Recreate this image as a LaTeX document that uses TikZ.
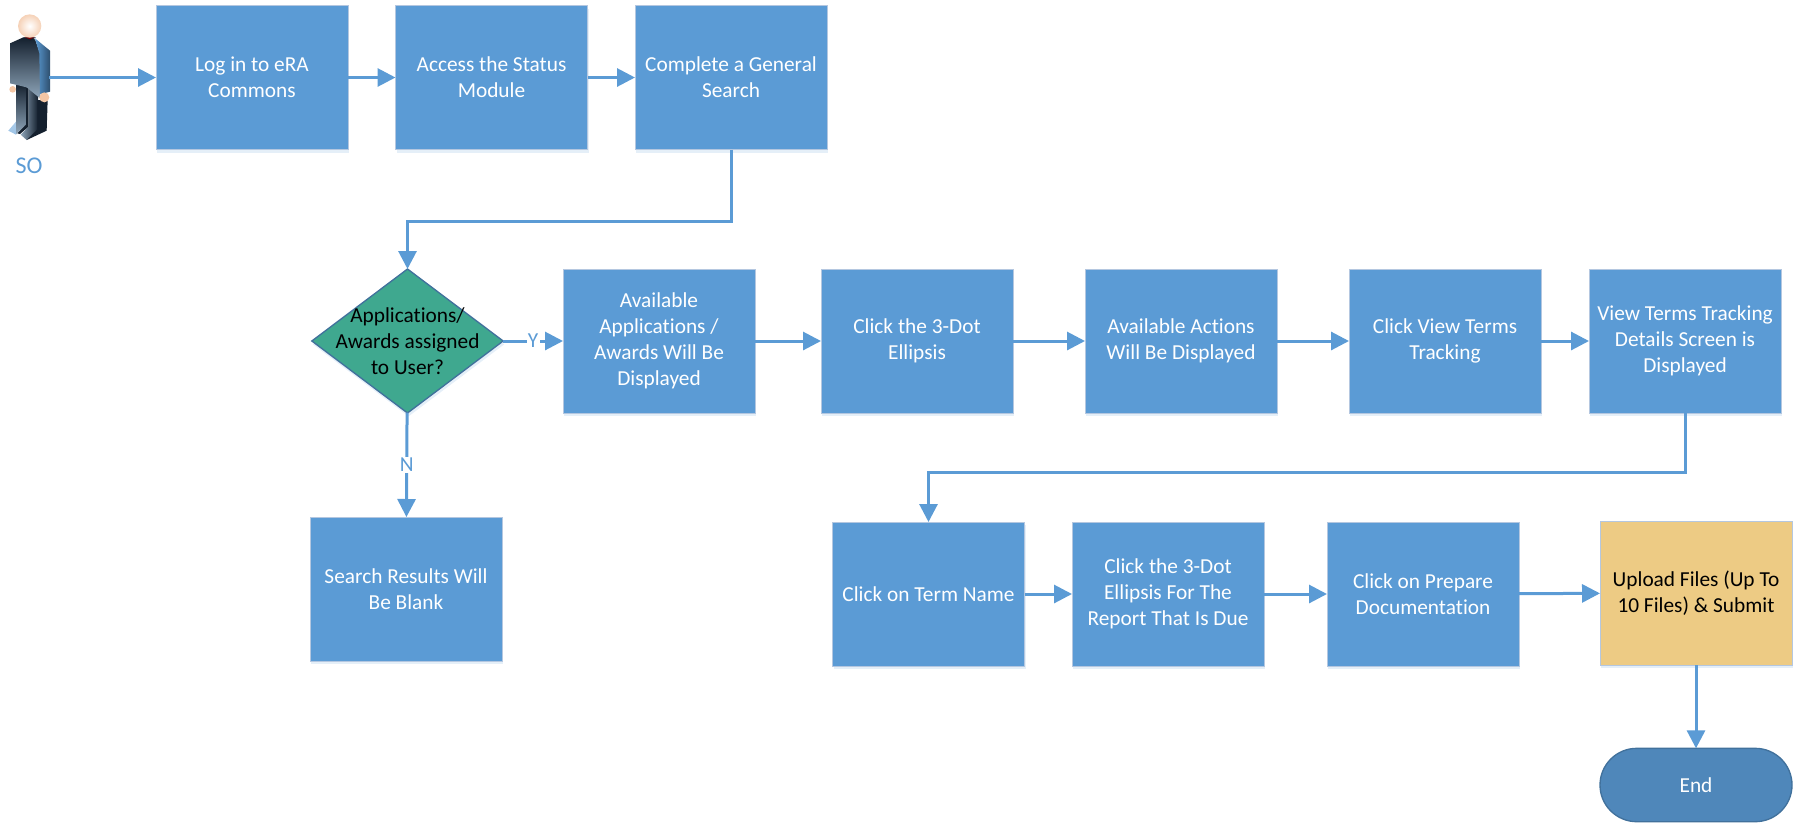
\documentclass[tikz,border=0pt]{standalone}
\usepackage{fontspec}
\setmainfont[Ligatures=NoCommon]{Carlito}
\usetikzlibrary{arrows.meta, shadows, shapes.geometric, shapes.misc}
\definecolor{boxblue}{HTML}{5B9BD5}
\definecolor{boxline}{HTML}{B4C7E0}
\definecolor{darkline}{HTML}{41719C}
\definecolor{decgreen}{HTML}{3FA88F}
\definecolor{upyellow}{HTML}{EDCB84}
\definecolor{endblue}{HTML}{4F87BA}
\definecolor{skin}{HTML}{F3C6A5}
\definecolor{suitdark}{HTML}{14202E}
\definecolor{suitgrey}{HTML}{8FA6BA}

\begin{document}
\begin{tikzpicture}[x=0.75pt, y=-0.75pt, >={Triangle[length=13.5pt,width=13.5pt]}, line width=2.25pt, draw=boxblue]
    \tikzstyle{softshadow}=[drop shadow={shadow xshift=0.8pt, shadow yshift=-2.5pt, opacity=0.16, fill=boxblue}]
    \tikzstyle{stepbox}=[shape=rectangle, fill=boxblue, draw=boxline, line width=0.6pt, text=white, font=\fontsize{16}{19.5}\selectfont, align=center, minimum width=144pt, minimum height=108pt, inner sep=0pt, outer sep=0pt, softshadow]
    \tikzstyle{uploadbox}=[stepbox, fill=upyellow, text=black]
    \tikzstyle{decision}=[shape=diamond, aspect=1.333, fill=decgreen, draw=darkline, line width=1pt, minimum width=143.5pt, minimum height=108pt, inner sep=0pt, outer sep=0pt, softshadow]
    \tikzstyle{terminal}=[shape=rounded rectangle, fill=endblue, draw=darkline, line width=1pt, text=white, font=\fontsize{16}{19.5}\selectfont, minimum width=144pt, minimum height=55pt, inner sep=0pt, outer sep=0pt]
    \tikzstyle{lab}=[fill=white, text=boxblue, font=\fontsize{16}{18}\selectfont, inner sep=1pt]

    \useasboundingbox (0,0) rectangle (1798,822);

    % first row
    \node[stepbox]  (s1) at (252,77.5)    {Log in to eRA\\Commons};
    \node[stepbox]  (s2) at (491.5,77.5)  {Access the Status\\Module};
    \node[stepbox]  (s3) at (731,77.5)    {Complete a General\\Search};

    % second row
    \node[decision] (d1) at (407.5,341)   {};
    \node[text=black, font=\fontsize{16}{19.5}\selectfont, align=center] (d1t) at (d1) {Applications/\\Awards assigned\\to User?};
    \node[stepbox]  (s4) at (659,341)     {Available\\Applications /\\Awards Will Be\\Displayed};
    \node[stepbox]  (s5) at (917,341)     {Click the 3-Dot\\Ellipsis};
    \node[stepbox]  (s6) at (1181,341)    {Available Actions\\Will Be Displayed};
    \node[stepbox]  (s7) at (1445,341)    {Click View Terms\\Tracking};
    \node[stepbox]  (s8) at (1685,341)    {View Terms Tracking\\Details Screen is\\Displayed};
    \node[stepbox]  (r1) at (406,589)     {Search Results Will\\Be Blank};

    % third row
    \node[stepbox]  (s9) at (928.5,594)   {Click on Term Name};
    \node[stepbox]  (s10) at (1168,594)   {Click the 3-Dot\\Ellipsis For The\\Report That Is Due};
    \node[stepbox]  (s11) at (1423,594)   {Click on Prepare\\Documentation};
    \node[uploadbox] (s12) at (1696,593)  {Upload Files (Up To\\10 Files) \& Submit};
    \node[terminal] (e1) at (1696,785)    {End};

    % person
    \begin{scope}[x=0.25pt, y=-0.25pt, line width=0.3pt]
        \shade[top color=boxblue!50!white, bottom color=boxblue!60!white, draw=none] (25,392) -- (52,360) -- (60,360) -- (60,385) -- (48,404) -- cycle;
        \shade[top color=suitdark, bottom color=suitgrey, draw=none] (50,250) -- (80,262) -- (80,372) -- (48,402) -- cycle;
        \fill[suitdark] (78,262) -- (86,262) -- (86,380) -- (60,402) -- (52,400) -- (78,374) -- cycle;
        \shade[left color=suitgrey, right color=suitdark, draw=none] (86,262) -- (114,280) -- (114,388) -- (80,420) -- (62,404) -- (86,380) -- cycle;
        \fill[suitdark] (112,300) -- (143,300) -- (140,392) -- (80,420) -- (112,388) -- cycle;
        \shade[top color=suitdark, bottom color=suitgrey, draw=none] (30,130) -- (70,112) -- (105,118) -- (120,160) -- (120,295) -- (80,262) -- (30,250) -- cycle;
        \shade[left color=boxblue, right color=darkline!70!black, draw=none] (105,115) -- (150,152) -- (150,275) -- (120,283) -- (118,160) -- cycle;
        \fill[suitdark] (70,112) -- (108,112) -- (92,122) -- cycle;
        \fill[red!50!black] (74,112) -- (104,112) -- (90,118) -- cycle;
        \shade[inner color=white, outer color=skin!80!white, draw=none] (89,78) circle (35);
        \fill[skin] (38,268) circle (10);
        \fill[skin] (133,292) circle (15);
    \end{scope}
    \coordinate (so) at (49,77.5);
    \node[lab, fill=none, font=\fontsize{18}{20}\selectfont] (so1) at (29,166) {SO};

    \path[draw=boxblue]
    (so)    edge[->]   (s1)
    (s1)    edge[->]   (s2)
    (s2)    edge[->]   (s3)
    (d1)    edge[->]   node[lab]{Y} (s4)
    (d1)    edge[->]   node[lab]{N} (r1)
    (s4)    edge[->]   (s5)
    (s5)    edge[->]   (s6)
    (s6)    edge[->]   (s7)
    (s7)    edge[->]   (s8)
    (s9)    edge[->]   (s10)
    (s10)   edge[->]   (s11)
    (s11)   edge[->]   (s12)
    (s12)   edge[->]   (e1)
            ;

    \draw[->, boxblue] (s3.south) -- ++(0,72) -| (d1.north);
    \draw[->, boxblue] (s8.south) -- ++(0,59) -| (s9.north);

\end{tikzpicture}
\end{document}
